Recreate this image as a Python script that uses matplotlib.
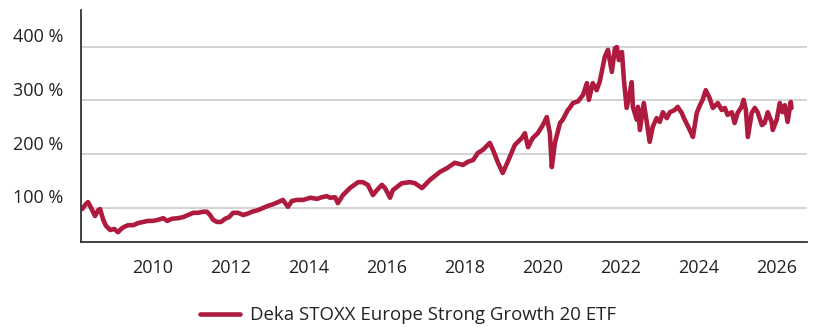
import matplotlib
matplotlib.use("Agg")
import matplotlib.pyplot as plt
from matplotlib.transforms import ScaledTranslation

# Fund performance (%), sampled at fractional years
years = [
    # 2008 - mid 2014
    2008.18, 2008.26, 2008.33, 2008.41, 2008.51, 2008.59, 2008.64, 2008.72, 2008.79, 2008.90,
    2009.00, 2009.10, 2009.18, 2009.26, 2009.36, 2009.49, 2009.62, 2009.74, 2009.87, 2010.00,
    2010.13, 2010.26, 2010.36, 2010.49, 2010.64, 2010.77, 2010.90, 2011.03, 2011.15, 2011.28,
    2011.38, 2011.46, 2011.54, 2011.64, 2011.74, 2011.85, 2011.95, 2012.05, 2012.18, 2012.31,
    2012.41, 2012.54, 2012.69, 2012.82, 2012.95, 2013.08, 2013.21, 2013.33, 2013.46, 2013.56,
    2013.69, 2013.85, 2014.03, 2014.21, 2014.33, 2014.46,
    # mid 2014 - mid 2020
    2014.54, 2014.67, 2014.74, 2014.87, 2015.05, 2015.26, 2015.38, 2015.51, 2015.64, 2015.74,
    2015.87, 2015.95, 2016.08, 2016.15, 2016.38, 2016.59, 2016.72, 2016.90, 2017.10, 2017.36,
    2017.54, 2017.74, 2017.95, 2018.08, 2018.21, 2018.33, 2018.46, 2018.64, 2018.72, 2018.85,
    2018.97, 2019.10, 2019.28, 2019.46, 2019.54, 2019.62, 2019.74, 2019.87, 2020.00, 2020.10,
    2020.18, 2020.23, 2020.31, 2020.44, 2020.51, 2020.64,
    # mid 2020 - 2021
    2020.69, 2020.77, 2020.90, 2021.03, 2021.13, 2021.18, 2021.28, 2021.38,
    # 2021 peak onwards
    2021.46, 2021.59, 2021.67, 2021.77, 2021.85, 2021.90, 2021.95, 2022.03, 2022.08, 2022.15,
    2022.23, 2022.28, 2022.31, 2022.41, 2022.44, 2022.49, 2022.59, 2022.67, 2022.74, 2022.82,
    2022.92, 2023.00, 2023.08, 2023.18, 2023.26, 2023.38, 2023.46, 2023.56, 2023.64, 2023.77,
    2023.85, 2023.95, 2024.03, 2024.10, 2024.18, 2024.28, 2024.36, 2024.49, 2024.59, 2024.67,
    2024.74, 2024.85, 2024.92, 2025.00, 2025.10, 2025.15, 2025.21, 2025.26, 2025.36, 2025.44,
    2025.51, 2025.62, 2025.69, 2025.77, 2025.87, 2025.90, 2026.00, 2026.08, 2026.15, 2026.21,
    2026.28, 2026.36, 2026.38,
]
values = [
    98, 106, 111, 100, 85, 96, 98, 78, 67, 59,
    61, 55, 61, 65, 68, 68, 72, 74, 76, 76,
    78, 81, 76, 80, 81, 83, 87, 91, 91, 93,
    93, 87, 78, 74, 74, 80, 83, 91, 91, 87,
    89, 93, 96, 100, 104, 107, 111, 115, 102, 113,
    115, 115, 119, 117, 120, 122,
    119, 120, 109, 124, 137, 148, 148, 143, 124, 133,
    143, 137, 119, 133, 146, 148, 146, 137, 152, 167,
    174, 184, 180, 186, 189, 202, 208, 221, 208, 184,
    165, 186, 217, 230, 239, 213, 230, 239, 254, 269,
    239, 176, 221, 258, 264, 282,
    286, 295, 298, 310, 332, 301, 332, 319,
    335, 381, 394, 353, 397, 399, 375, 390, 338, 286,
    314, 334, 288, 264, 288, 245, 295, 258, 223, 251,
    267, 260, 278, 267, 278, 282, 288, 277, 264, 245,
    232, 277, 291, 301, 319, 304, 286, 295, 282, 286,
    273, 278, 258, 277, 288, 301, 282, 232, 277, 286,
    278, 254, 258, 278, 260, 245, 264, 295, 278, 291,
    260, 297, 286,
]
series_name = "Deka STOXX Europe Strong Growth 20 ETF"
y_ticks = [100, 200, 300, 400]
y_tick_labels = ["100 %", "200 %", "300 %", "400 %"]
x_ticks = [2010, 2012, 2014, 2016, 2018, 2020, 2022, 2024, 2026]
x_tick_labels = [str(t) for t in x_ticks]

LINE_COLOR = "#AE1B3E"
TEXT_COLOR = "#222222"

plt.rcParams["font.family"] = ["Open Sans", "DejaVu Sans"]

W, H = 816, 327
fig = plt.figure(figsize=(W / 100, H / 100), dpi=100)
ax = fig.add_axes([81 / W, 84.7 / H, (806.7 - 81) / W, (317 - 84.7) / H])

ax.plot(years, values, color=LINE_COLOR, lw=3.3,
        solid_joinstyle="round", solid_capstyle="round", label=series_name)

ax.set_xlim(2008.15, 2026.77)
ax.set_ylim(36.2, 468)

ax.set_xticks(x_ticks)
ax.set_xticklabels(x_tick_labels)
ax.set_yticks(y_ticks)
ax.set_yticklabels(y_tick_labels)

ax.grid(axis="y", color="#d0d0d0", lw=1.3)
ax.set_axisbelow(True)

for side in ("top", "right"):
    ax.spines[side].set_visible(False)
for side in ("left", "bottom"):
    ax.spines[side].set_color("#333333")
    ax.spines[side].set_linewidth(1.3)

ax.tick_params(axis="both", length=0, labelsize=13, labelcolor=TEXT_COLOR)
ax.tick_params(axis="x", pad=12)
ax.tick_params(axis="y", pad=49)

# y labels sit left-aligned, slightly above their gridlines
lift = ScaledTranslation(0, 11.5 / 100, fig.dpi_scale_trans)
for lbl in ax.get_yticklabels():
    lbl.set_horizontalalignment("left")
    lbl.set_transform(lbl.get_transform() + lift)

fig.legend(loc="center", bbox_to_anchor=(0.5, 11.5 / H), frameon=False,
           fontsize=13.4, handlelength=2.15, handletextpad=0.54,
           labelcolor=TEXT_COLOR)

fig.savefig("out.png", dpi=100)
